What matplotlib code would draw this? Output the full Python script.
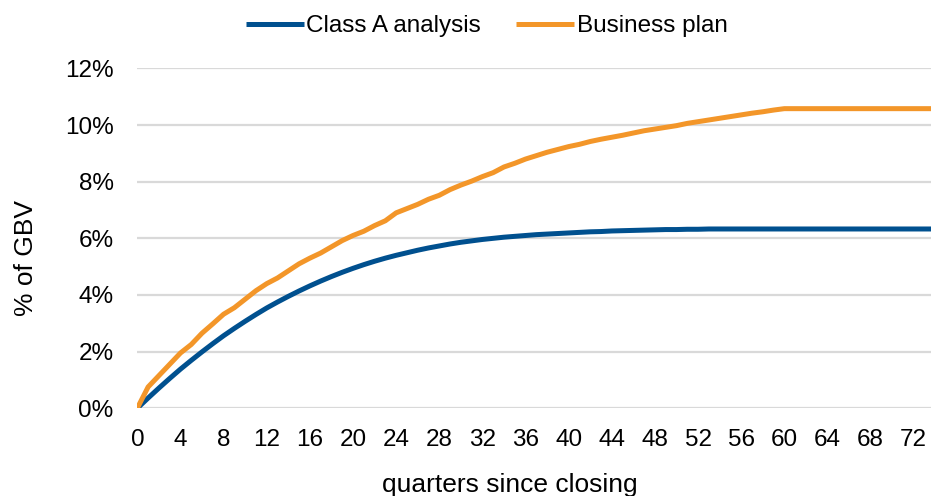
import matplotlib
matplotlib.use('Agg')
import matplotlib.pyplot as plt
import numpy as np
from matplotlib.ticker import FuncFormatter

plt.rcParams['font.family'] = ['Liberation Sans', 'DejaVu Sans']

# quarters since closing
quarters = list(range(0, 75))

# % of GBV
class_a = [0.00, 0.36, 0.71, 1.05, 1.38, 1.69, 1.99, 2.28, 2.56, 2.82,
           3.07, 3.31, 3.54, 3.75, 3.95, 4.14, 4.32, 4.49, 4.65, 4.80,
           4.94, 5.07, 5.19, 5.30, 5.40, 5.49, 5.58, 5.66, 5.73, 5.80,
           5.86, 5.91, 5.96, 6.00, 6.04, 6.07, 6.10, 6.13, 6.15, 6.17,
           6.19, 6.21, 6.23, 6.24, 6.26, 6.27, 6.28, 6.29, 6.30, 6.31,
           6.31, 6.32, 6.32, 6.33, 6.33, 6.33, 6.33, 6.33, 6.33, 6.33,
           6.33, 6.33, 6.33, 6.33, 6.33, 6.33, 6.33, 6.33, 6.33, 6.33,
           6.33, 6.33, 6.33, 6.33, 6.33]

business_plan = [0.00, 0.75, 1.15, 1.55, 1.95, 2.25, 2.65, 2.98, 3.32, 3.55,
                 3.85, 4.15, 4.40, 4.60, 4.85, 5.10, 5.30, 5.48, 5.70, 5.92,
                 6.10, 6.25, 6.45, 6.62, 6.90, 7.05, 7.20, 7.38, 7.52, 7.72,
                 7.88, 8.02, 8.18, 8.32, 8.52, 8.65, 8.80, 8.92, 9.04, 9.14,
                 9.24, 9.32, 9.42, 9.50, 9.57, 9.64, 9.72, 9.80, 9.86, 9.92,
                 9.98, 10.06, 10.12, 10.18, 10.24, 10.30, 10.36, 10.42, 10.47, 10.53,
                 10.58, 10.58, 10.58, 10.58, 10.58, 10.58, 10.58, 10.58, 10.58, 10.58,
                 10.58, 10.58, 10.58, 10.58, 10.58]

x_ticks = list(range(0, 73, 4))
y_ticks = [0, 2, 4, 6, 8, 10, 12]

blue = '#00508F'
orange = '#F39629'
fs = 17.5

fig = plt.figure(figsize=(9.31, 4.96), dpi=100)
ax = fig.add_axes([0.1475, 0.177, 0.8525, 0.685])

ax.plot(quarters, class_a, color=blue, linewidth=3.6, label='Class A analysis',
        solid_capstyle='butt', zorder=3)
ax.plot(quarters, business_plan, color=orange, linewidth=3.6, label='Business plan',
        solid_capstyle='butt', zorder=3)

ax.set_xlim(0, 73.6)
ax.set_ylim(0, 12)
ax.set_xticks(x_ticks)
ax.set_yticks(y_ticks)
ax.yaxis.set_major_formatter(FuncFormatter(lambda v, pos: '%d%%' % v))
ax.grid(axis='y', color='#D9D9D9', linewidth=1.6)
ax.set_axisbelow(True)
for s in ax.spines.values():
    s.set_visible(False)
ax.tick_params(axis='both', length=0, labelsize=fs)
ax.tick_params(axis='x', pad=15)
ax.tick_params(axis='y', pad=17)

ax.set_xlabel('quarters since closing', fontsize=19)
ax.set_ylabel('% of GBV', fontsize=19)
ax.xaxis.set_label_coords(0.469, -0.19)
ax.yaxis.set_label_coords(-0.125, 0.442)

fig.legend(loc='center', bbox_to_anchor=(0.523, 0.947), ncol=2, frameon=False,
           fontsize=fs, handlelength=2.35, handletextpad=0.12, columnspacing=1.45)

fig.savefig('out.png', dpi=100)
